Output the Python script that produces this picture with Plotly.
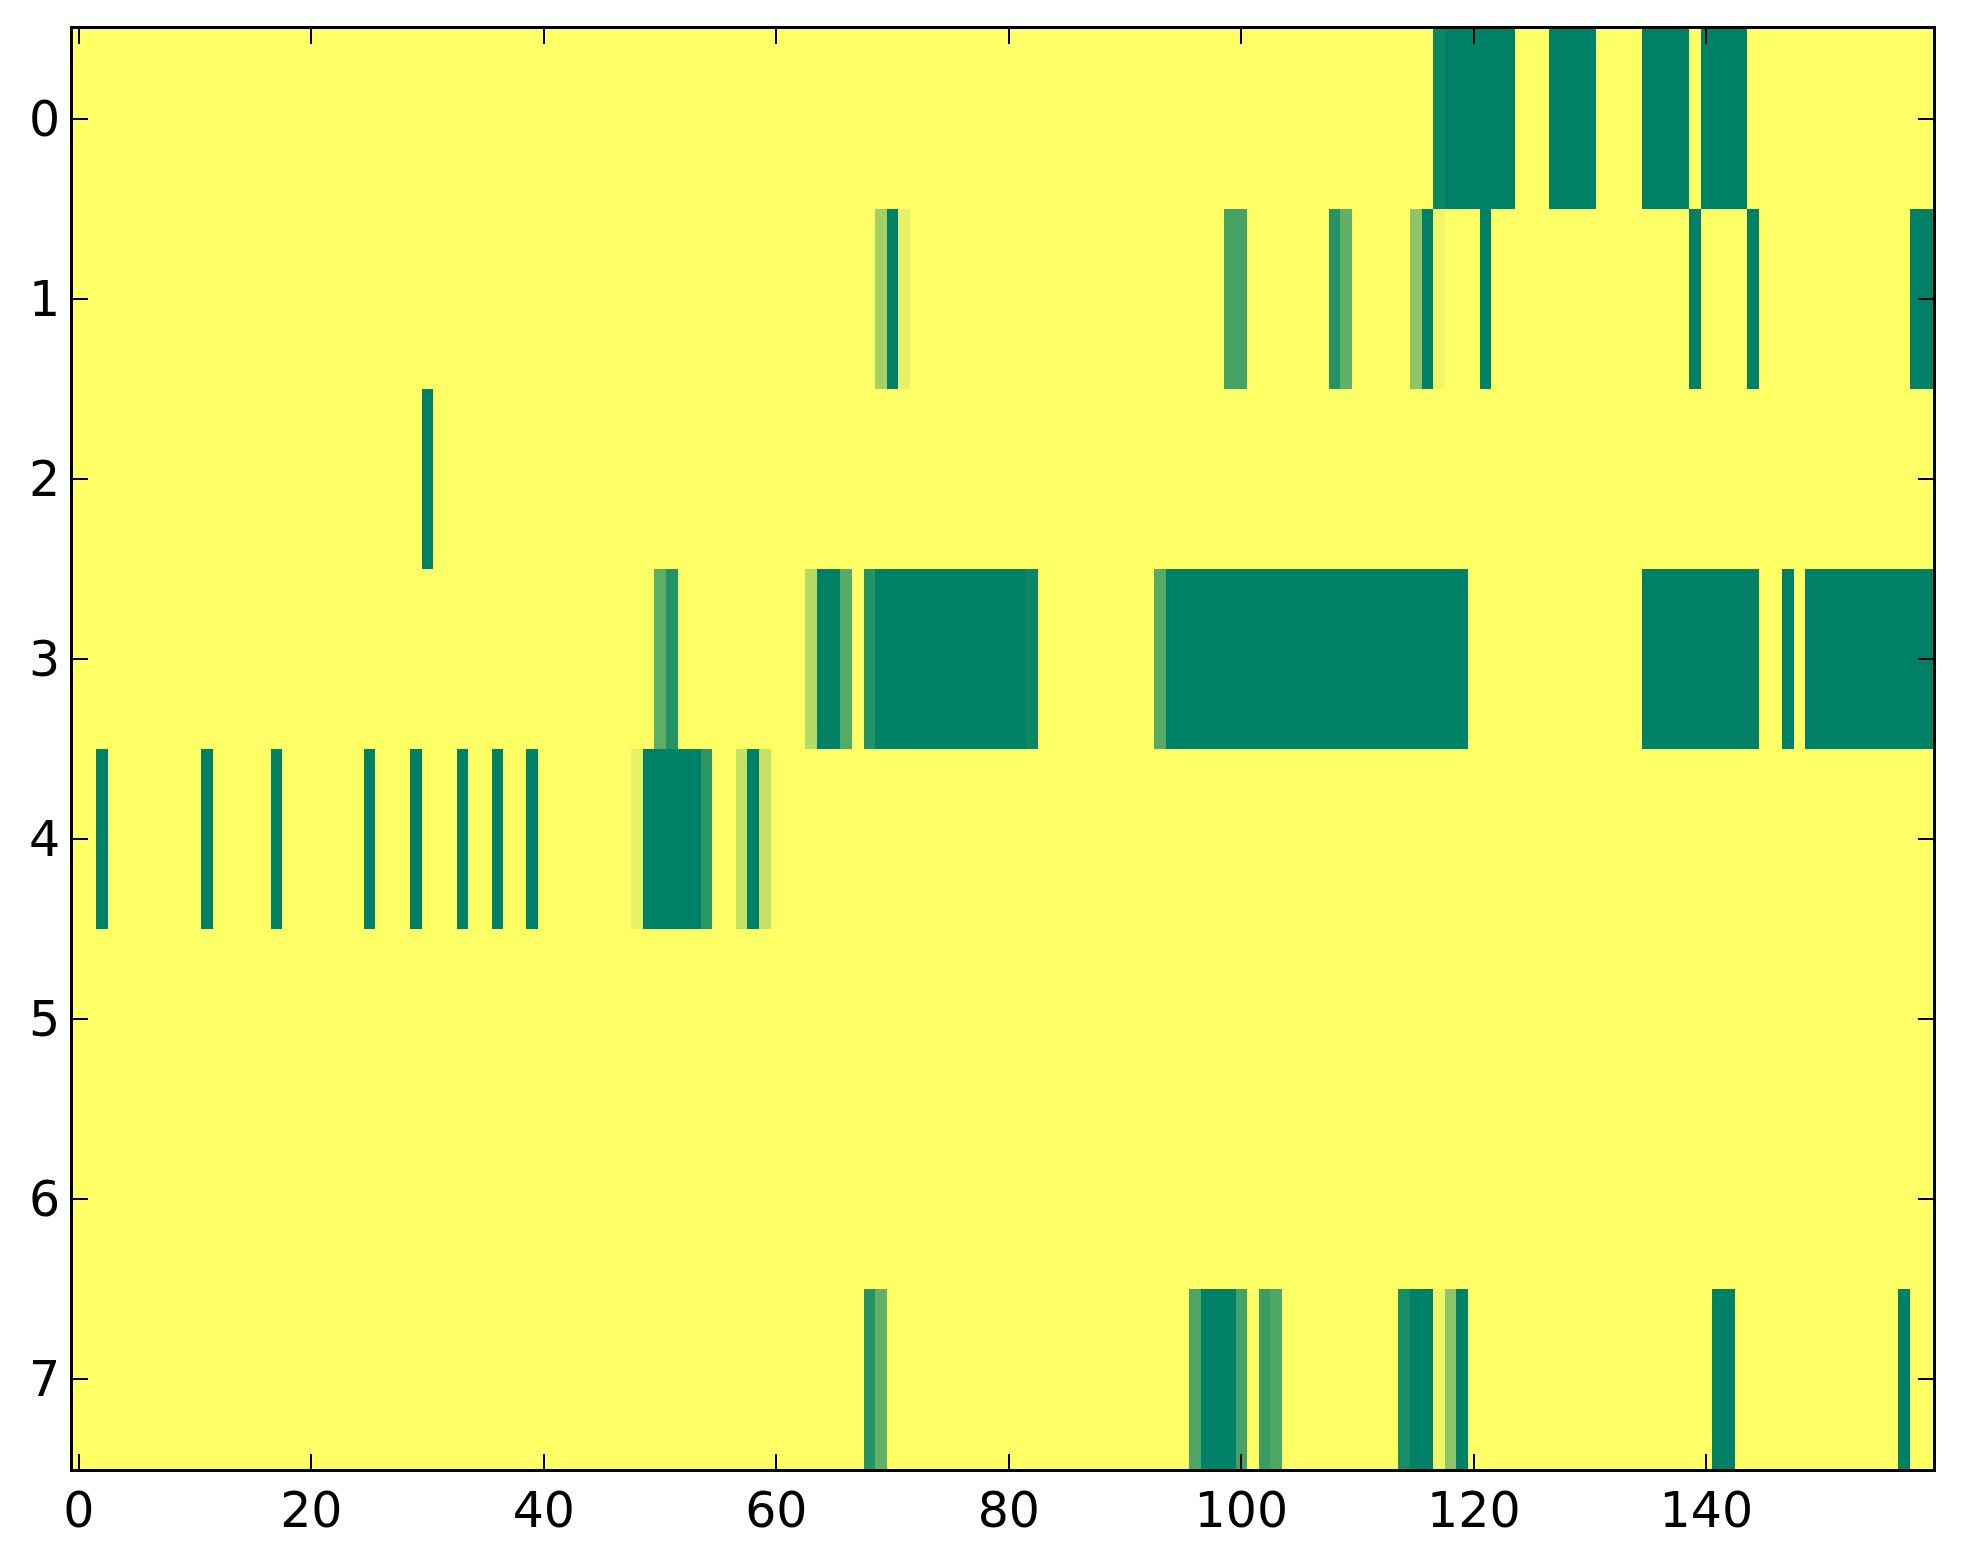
import numpy as np
import plotly.graph_objects as go

n_rows = 8
n_cols = 160

# each row: [first column, last column, value] runs, everything else is 0
row0 = [[117, 117, 0.95], [118, 123, 1], [127, 130, 1], [135, 138, 1], [140, 143, 1]]
row1 = [[69, 69, 0.36], [70, 70, 1], [71, 71, 0.1], [99, 100, 0.73], [108, 108, 0.85],
        [109, 109, 0.62], [115, 115, 0.45], [116, 116, 1], [117, 117, 0.06],
        [121, 121, 1], [139, 139, 1], [144, 144, 1], [158, 159, 1]]
row2 = [[30, 30, 1]]
row3 = [[50, 50, 0.63], [51, 51, 0.86], [63, 63, 0.29], [64, 65, 1], [66, 66, 0.66],
        [68, 68, 0.86], [69, 81, 1], [82, 82, 0.95], [93, 93, 0.66], [94, 119, 1],
        [135, 144, 1], [147, 147, 1], [149, 159, 1]]
row4 = [[2, 2, 1], [11, 11, 1], [17, 17, 1], [25, 25, 1], [29, 29, 1], [33, 33, 1],
        [36, 36, 1], [39, 39, 1], [48, 48, 0.1], [49, 53, 1], [54, 54, 0.83],
        [57, 57, 0.24], [58, 58, 1], [59, 59, 0.24]]
row5 = []
row6 = []
row7 = [[68, 68, 0.85], [69, 69, 0.62], [96, 96, 0.7], [97, 99, 1], [100, 100, 0.73],
        [102, 102, 0.77], [103, 103, 0.7], [114, 114, 0.9], [115, 116, 1],
        [117, 117, 0.06], [118, 118, 0.45], [119, 119, 1], [141, 142, 1], [157, 157, 1]]

rows = [row0, row1, row2, row3, row4, row5, row6, row7]

z = np.zeros((n_rows, n_cols))
for r, runs in enumerate(rows):
    for start, end, val in runs:
        z[r, start:end + 1] = val

# matplotlib summer_r
summer_r = [[0, "rgb(255,255,102)"], [1, "rgb(0,128,102)"]]

fig = go.Figure(go.Heatmap(
    z=z,
    x=list(range(n_cols)),
    y=list(range(n_rows)),
    colorscale=summer_r,
    zmin=0, zmax=1,
    showscale=False,
    hoverinfo="skip",
))

axis_style = dict(
    showline=True, linecolor="black", linewidth=3, mirror="ticks",
    ticks="inside", ticklen=15, tickwidth=2, tickcolor="black",
    showgrid=False, zeroline=False,
    tickfont=dict(family="DejaVu Sans", size=49, color="black"),
)

fig.update_xaxes(range=[-0.5, n_cols - 0.5], tickmode="array",
                 tickvals=[0, 20, 40, 60, 80, 100, 120, 140],
                 ticklabelstandoff=-4, **axis_style)
fig.update_yaxes(range=[n_rows - 0.5, -0.5], tickmode="array",
                 tickvals=list(range(n_rows)), **axis_style)

# page body has an 8px margin, so the figure is a bit smaller than the window
fig.update_layout(
    width=1955, height=1556,
    margin=dict(l=65, r=30, t=21, b=95),
    paper_bgcolor="white", plot_bgcolor="white",
)

fig.write_html("out.html")
